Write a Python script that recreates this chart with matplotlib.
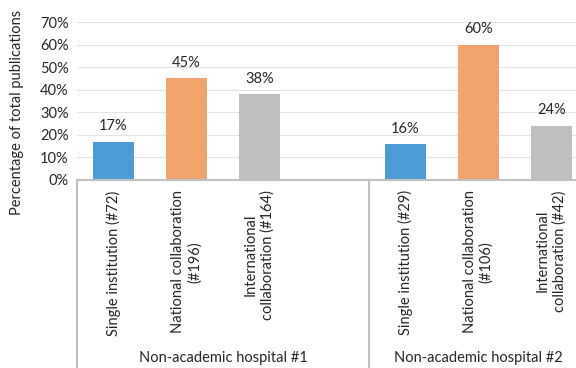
import matplotlib
matplotlib.use("Agg")
from matplotlib import pyplot as plt
from matplotlib.ticker import FuncFormatter
import matplotlib.transforms as mtransforms

plt.rcParams['font.family'] = ['Lato', 'DejaVu Sans']

# donnees (en %)
groupes = ['Non-academic hospital #1', 'Non-academic hospital #2']
categories_h1 = ['Single institution (#72)', 'National collaboration\n(#196)',
                 'International\ncollaboration (#164)']
categories_h2 = ['Single institution (#29)', 'National collaboration\n(#106)',
                 'International\ncollaboration (#42)']
valeurs_h1 = [17, 45, 38]
valeurs_h2 = [16, 60, 24]
couleurs = ['#4C9BD5', '#F2A46F', '#BFBFBF']

fig = plt.figure(figsize=(5.76, 3.68), dpi=100)
ax = fig.add_axes([77 / 576, 1 - 180 / 368, 1 - 77 / 576, 158 / 368])

pos_h1 = [0, 1, 2]
pos_h2 = [4, 5, 6]
bars1 = ax.bar(pos_h1, valeurs_h1, width=0.56, color=couleurs, zorder=3)
bars2 = ax.bar(pos_h2, valeurs_h2, width=0.56, color=couleurs, zorder=3)
for b in (bars1, bars2):
    ax.bar_label(b, labels=[f'{v}%' for v in b.datavalues], padding=6,
                 fontsize=10.5, color='#262626')

ax.set_xlim(-0.5, 6.34)
ax.set_ylim(0, 70)
ax.set_yticks(range(0, 71, 10))
ax.yaxis.set_major_formatter(FuncFormatter(lambda v, p: f'{v:.0f}%'))
ax.tick_params(axis='y', length=0, pad=6, labelsize=10.5, labelcolor='#262626')
ax.set_xticks([])
ax.grid(axis='y', color='#E3E3E3', linewidth=0.8, zorder=0)
for s in ['left', 'right', 'top']:
    ax.spines[s].set_visible(False)
ax.spines['bottom'].set_color('#BFBFBF')
ax.spines['bottom'].set_linewidth(1.5)
ax.spines['bottom'].set_zorder(4)

ax.set_ylabel('Percentage of total publications', fontsize=10.5, color='#262626')
# le titre de l'axe est centre plus bas que la zone de trace
ax.yaxis.set_label_coords(-0.106, 0.43)

trans = mtransforms.blended_transform_factory(ax.transData, ax.transAxes)
# separateurs de groupes sous l'axe
for xs in [-0.5, 3.5]:
    ax.plot([xs, xs], [0, -1.3], transform=trans, color='#BFBFBF',
            linewidth=1.5, clip_on=False)

for pos, cats in [(pos_h1, categories_h1), (pos_h2, categories_h2)]:
    for x, c in zip(pos, cats):
        ax.text(x, -0.065, c, transform=trans, rotation=90, ha='center',
                va='top', multialignment='center', fontsize=10.5, color='#262626')

for xc, g in zip([1.5, 5.0], groupes):
    ax.text(xc, -1.127, g, transform=trans, ha='center', va='center',
            fontsize=10.5, color='#262626')

plt.savefig('out.png', dpi=100)
